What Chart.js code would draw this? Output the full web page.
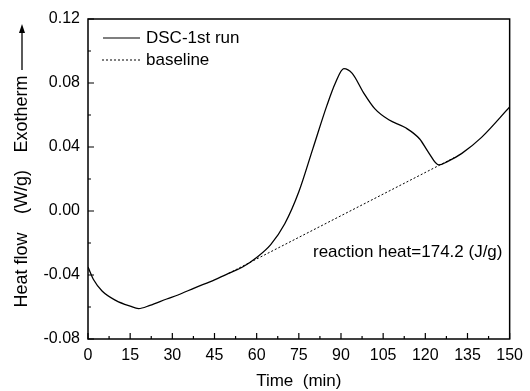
<!DOCTYPE html>
<html>
<head>
<meta charset="utf-8">
<script src="https://cdn.jsdelivr.net/npm/chart.js@4/dist/chart.umd.min.js"></script>
<style>
    html, body {margin: 0; padding: 0; background: #fff;}
    #box {width: 530px; height: 391px;}
</style>
</head>
<body>
<div id="box"><canvas id="dscChart"></canvas></div>
<script>
// DSC curve
var time = [0, 2, 5, 10, 15, 18, 22, 28, 32, 38, 45, 50, 55, 60, 65, 70, 75, 80, 85, 88, 91, 94, 98, 102, 107, 113, 118, 121, 124.8, 128, 133, 140, 150];
var heatFlow = [-0.035, -0.043, -0.050, -0.056, -0.0595, -0.061, -0.059, -0.055, -0.0525, -0.048, -0.043, -0.039, -0.035, -0.029, -0.021, -0.008, 0.012, 0.039, 0.066, 0.080, 0.089, 0.086, 0.074, 0.064, 0.057, 0.052, 0.045, 0.037, 0.0288, 0.031, 0.036, 0.046, 0.065];

// straight baseline under the peak
var baseTime = [50, 131];
var baseFlow = [-0.039, 0.034];

var xTicks = [0, 15, 30, 45, 60, 75, 90, 105, 120, 135, 150];
var yTicks = [-0.08, -0.04, 0.00, 0.04, 0.08, 0.12];

var seriesNames = ['DSC-1st run', 'baseline'];
var noteText = 'reaction heat=174.2 (J/g)';

function toPoints(xs, ys) {
    return xs.map(function (x, i) {
        return {x: x, y: ys[i]};
    });
}

var fontFamily = '"Liberation Sans", Arial, sans-serif';

// frame, inward ticks, legend, note and the y title
var decorations = {
    id: 'decorations',
    afterDraw: function (chart) {
        let ctx = chart.ctx;
        let area = chart.chartArea;
        let xs = chart.scales.x;
        let ys = chart.scales.y;

        ctx.save();
        ctx.strokeStyle = '#000';
        ctx.lineWidth = 1.5;
        ctx.strokeRect(area.left, area.top, area.right - area.left, area.bottom - area.top);

        ctx.lineWidth = 1.2;
        ctx.beginPath();
        for (let t = 0; t <= 150; t += 7.5) {
            let px = xs.getPixelForValue(t);
            let len = (t % 15 === 0) ? 6 : 3;
            ctx.moveTo(px, area.bottom);
            ctx.lineTo(px, area.bottom - len);
        }
        for (let k = 0; k <= 10; k++) {
            let v = -0.08 + k * 0.02;
            let py = ys.getPixelForValue(v);
            let len = (k % 2 === 0) ? 6 : 3;
            ctx.moveTo(area.left, py);
            ctx.lineTo(area.left + len, py);
        }
        ctx.stroke();

        // legend
        ctx.lineWidth = 1.2;
        ctx.beginPath();
        ctx.moveTo(103, 38);
        ctx.lineTo(140, 38);
        ctx.stroke();
        ctx.setLineDash([2, 2]);
        ctx.lineWidth = 1;
        ctx.beginPath();
        ctx.moveTo(102, 60);
        ctx.lineTo(140, 60);
        ctx.stroke();
        ctx.setLineDash([]);

        ctx.fillStyle = '#000';
        ctx.font = '17px ' + fontFamily;
        ctx.textAlign = 'left';
        ctx.textBaseline = 'middle';
        ctx.fillText(seriesNames[0], 146, 38);
        ctx.fillText(seriesNames[1], 146, 60);

        ctx.fillText(noteText, 313, 252);

        // y title, rotated
        ctx.translate(22, 0);
        ctx.rotate(-Math.PI / 2);
        ctx.font = '18px ' + fontFamily;
        ctx.textAlign = 'center';
        ctx.fillText('Heat flow', -270, 0);
        ctx.fillText('(W/g)', -192, 0);
        ctx.fillText('Exotherm', -114, 0);
        ctx.lineWidth = 1.3;
        ctx.beginPath();
        ctx.moveTo(-70, 0);
        ctx.lineTo(-28, 0);
        ctx.stroke();
        ctx.beginPath();
        ctx.moveTo(-24, 0);
        ctx.lineTo(-33, -3);
        ctx.lineTo(-33, 3);
        ctx.closePath();
        ctx.fill();
        ctx.restore();
    }
};

var chart = new Chart(document.getElementById('dscChart'), {
    type: 'line',
    data: {
        datasets: [{
            label: seriesNames[0],
            data: toPoints(time, heatFlow),
            borderColor: '#000',
            borderWidth: 1.3,
            pointRadius: 0,
            cubicInterpolationMode: 'monotone',
            fill: false
        }, {
            label: seriesNames[1],
            data: toPoints(baseTime, baseFlow),
            borderColor: '#000',
            borderWidth: 1,
            borderDash: [2, 2],
            pointRadius: 0,
            fill: false
        }]
    },
    options: {
        responsive: true,
        maintainAspectRatio: false,
        animation: false,
        events: [],
        layout: {padding: {top: 19, right: 13, left: 0, bottom: 0}},
        plugins: {
            legend: {display: false},
            tooltip: {enabled: false}
        },
        scales: {
            x: {
                type: 'linear',
                min: 0,
                max: 150,
                afterFit: function (scale) {
                    scale.height = 52;
                },
                afterBuildTicks: function (scale) {
                    scale.ticks = xTicks.map(function (v) {
                        return {value: v};
                    });
                },
                grid: {display: false, drawTicks: false},
                border: {display: false},
                ticks: {
                    color: '#000',
                    padding: 7,
                    maxRotation: 0,
                    font: {size: 16, family: fontFamily}
                },
                title: {
                    display: true,
                    text: 'Time  (min)',
                    color: '#000',
                    padding: {top: 4, bottom: -1},
                    font: {size: 17, family: fontFamily}
                }
            },
            y: {
                min: -0.08,
                max: 0.12,
                afterFit: function (scale) {
                    scale.width = 88;
                },
                afterBuildTicks: function (scale) {
                    scale.ticks = yTicks.map(function (v) {
                        return {value: v};
                    });
                },
                grid: {display: false, drawTicks: false},
                border: {display: false},
                ticks: {
                    color: '#000',
                    padding: 8,
                    font: {size: 16, family: fontFamily},
                    callback: function (v) {
                        if (Math.abs(v) < 1e-9) {
                            v = 0;
                        }
                        return v.toFixed(2);
                    }
                }
            }
        }
    },
    plugins: [decorations]
});
</script>
</body>
</html>
